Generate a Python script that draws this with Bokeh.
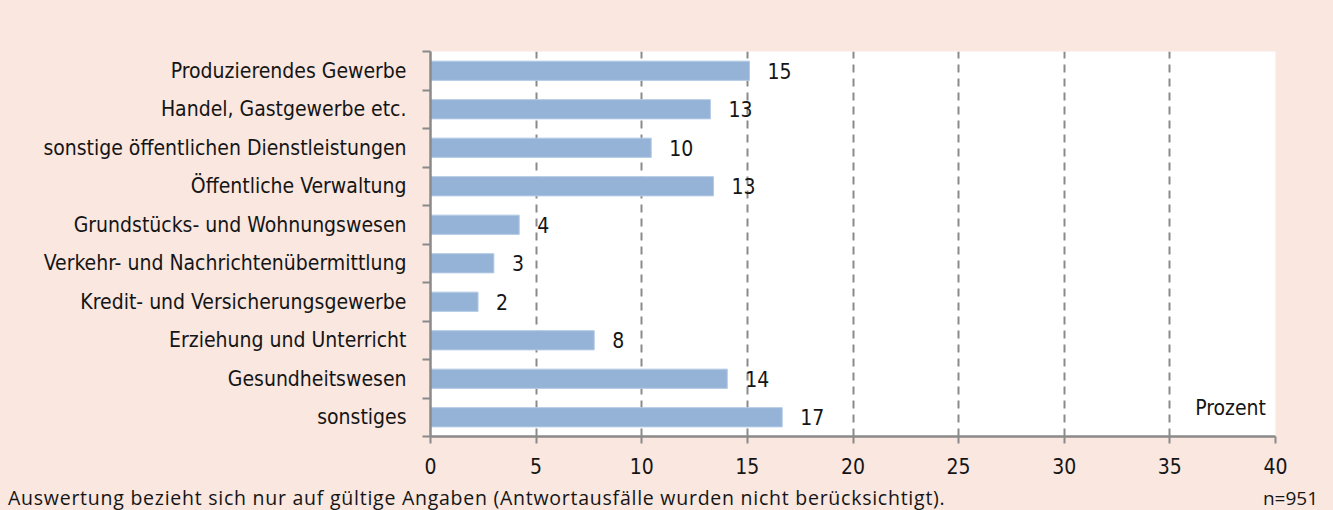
from bokeh.plotting import figure
from bokeh.layouts import column
from bokeh.models import Range1d, FixedTicker, Label, ColumnDataSource, Div
from bokeh.embed import file_html
from bokeh.resources import INLINE
from bokeh.core.properties import value

categories = [
    "Produzierendes Gewerbe",
    "Handel, Gastgewerbe etc.",
    "sonstige öffentlichen Dienstleistungen",
    "Öffentliche Verwaltung",
    "Grundstücks- und Wohnungswesen",
    "Verkehr- und Nachrichtenübermittlung",
    "Kredit- und Versicherungsgewerbe",
    "Erziehung und Unterricht",
    "Gesundheitswesen",
    "sonstiges",
]
values = [15.1, 13.25, 10.45, 13.4, 4.2, 3.0, 2.25, 7.75, 14.05, 16.65]
value_labels = ["15", "13", "10", "13", "4", "3", "2", "8", "14", "17"]
x_ticks = [0, 5, 10, 15, 20, 25, 30, 35, 40]
unit_label = "Prozent"
footnote = "Auswertung bezieht sich nur auf gültige Angaben (Antwortausfälle wurden nicht berücksichtigt)."
sample_size = "n=951"

FONT = "DejaVu Sans Condensed"
FS = "21px"
PINK = "#F9E7E0"
GRAY = "#8a8a8a"
TXT = "#151515"
W = 1333
H_MAIN = 484
H_FOOT = 26

n = len(categories)
ypos = [n - 0.5 - i for i in range(n)]
src = ColumnDataSource(dict(y=ypos, v=values, lab=value_labels, cat=categories))

p = figure(width=W, height=H_MAIN, output_backend="svg", toolbar_location=None,
           x_range=Range1d(0, 40), y_range=Range1d(0, n),
           min_border_left=430, min_border_right=58, min_border_top=51, min_border_bottom=48)
p.background_fill_color = "white"
p.border_fill_color = PINK
p.outline_line_color = None

p.hbar(y="y", right="v", left=0, height=0.5, source=src,
       fill_color="#95B3D7", line_color="#b5cbe5", line_width=1)

p.text(x="v", y="y", text="lab", source=src, x_offset=18,
       text_font=value(FONT), text_font_size=FS, text_color=TXT,
       text_baseline="middle", text_align="left")

# x axis
p.xaxis.ticker = FixedTicker(ticks=x_ticks)
p.xaxis.axis_line_color = GRAY
p.xaxis.axis_line_width = 2.5
p.xaxis.major_tick_line_color = GRAY
p.xaxis.major_tick_line_width = 2
p.xaxis.major_tick_in = 0
p.xaxis.major_tick_out = 7
p.xaxis.minor_tick_line_color = None
p.xaxis.major_label_standoff = 14
p.xaxis.major_label_text_font = FONT
p.xaxis.major_label_text_font_size = FS
p.xaxis.major_label_text_color = TXT

# y axis: labels at category centres, tick marks at category boundaries
p.yaxis.ticker = FixedTicker(ticks=ypos, minor_ticks=list(range(n + 1)))
p.yaxis.major_label_overrides = {y: c for y, c in zip(ypos, categories)}
p.yaxis.axis_line_color = GRAY
p.yaxis.axis_line_width = 2.5
p.yaxis.major_tick_line_color = None
p.yaxis.major_tick_in = 0
p.yaxis.major_tick_out = 0
p.yaxis.minor_tick_line_color = GRAY
p.yaxis.minor_tick_line_width = 2
p.yaxis.minor_tick_in = 0
p.yaxis.minor_tick_out = 8
p.yaxis.major_label_standoff = 16
p.yaxis.major_label_text_font = FONT
p.yaxis.major_label_text_font_size = FS
p.yaxis.major_label_text_color = TXT

p.xgrid.ticker = FixedTicker(ticks=x_ticks)
p.xgrid.grid_line_color = GRAY
p.xgrid.grid_line_width = 2
p.xgrid.grid_line_dash = "8 6"
p.ygrid.grid_line_color = None

p.add_layout(Label(x=39.55, y=0.75, text=unit_label, text_font=FONT, text_font_size=FS,
                   text_color=TXT, text_align="right", text_baseline="middle"))

# footer strip
footer_html = (
    '<div style="display:flex;justify-content:space-between;align-items:baseline;box-sizing:border-box;'
    'width:%dpx;height:%dpx;padding:1px 15px 0 8px;margin:0;'
    'font-family:\'Open Sans\';line-height:25px;color:%s;'
    'background:%s;white-space:nowrap;overflow:hidden;">'
    '<span style="font-size:19.5px;letter-spacing:0.75px;">%s</span>'
    '<span style="font-size:19px;">%s</span></div>'
) % (W, H_FOOT, TXT, PINK, footnote, sample_size)
f = Div(text=footer_html, width=W, height=H_FOOT,
        styles={"background-color": PINK, "margin": "0", "padding": "0"})

layout = column(p, f, spacing=0, styles={"background-color": PINK})
open("out.html", "w").write(file_html(layout, INLINE))
